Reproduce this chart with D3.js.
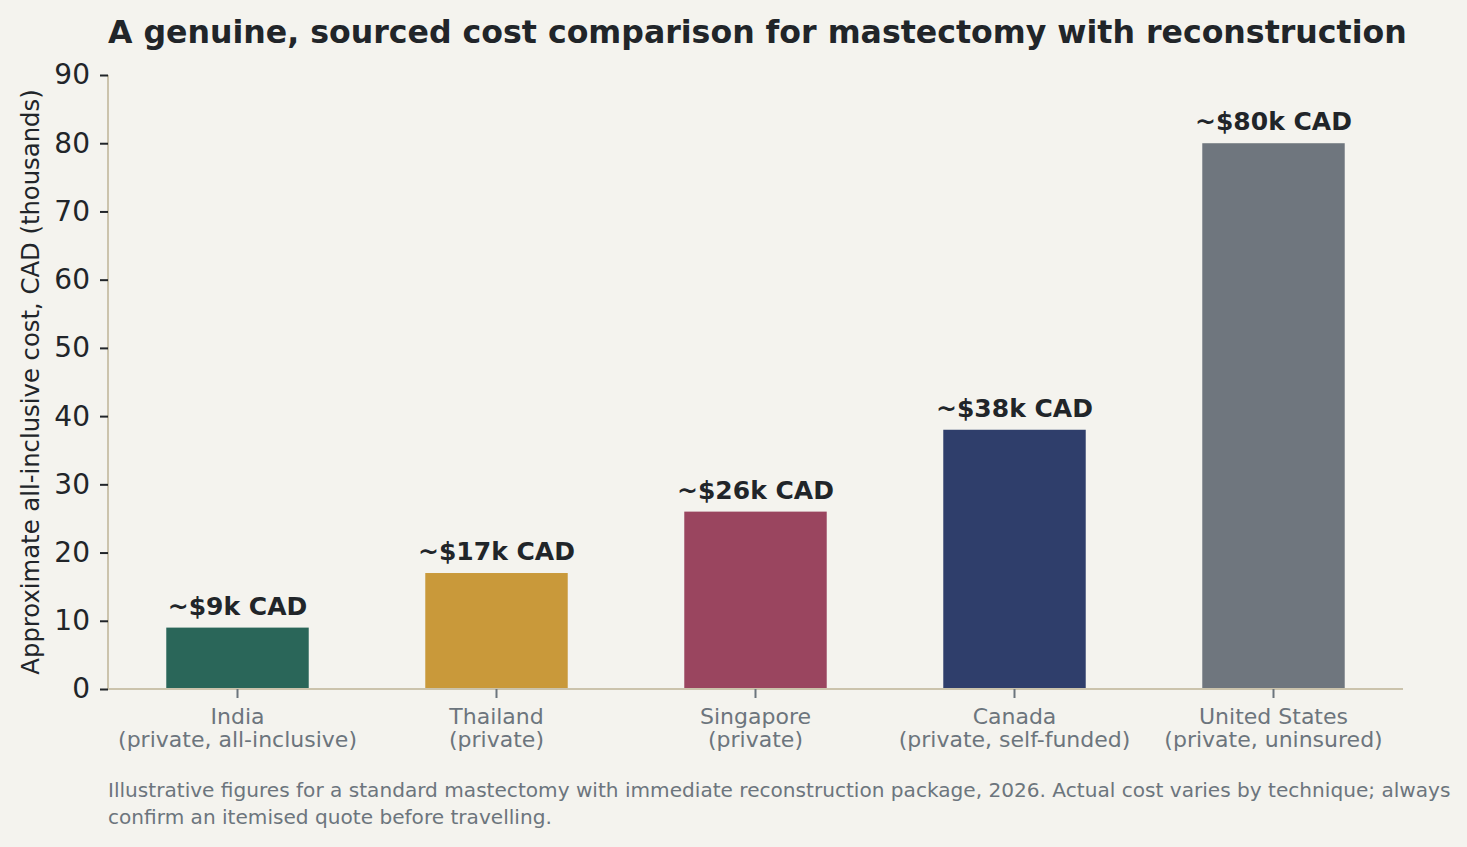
<!DOCTYPE html>
<html>
<head>
<meta charset="utf-8">
<script src="https://cdn.jsdelivr.net/npm/d3@7"></script>
<style>
	body { margin: 0; background: #f4f3ee; }
	svg { display: block; }
	svg text { font-family: "DejaVu Sans", sans-serif; }
</style>
</head>
<body>
<svg id="chart" width="1467" height="847"></svg>
<script>
var countries = ["India", "Thailand", "Singapore", "Canada", "United States"],
	subtitles = ["(private, all-inclusive)", "(private)", "(private)", "(private, self-funded)", "(private, uninsured)"],
	costs = [9, 17, 26, 38, 80],
	barLabels = ["~$9k CAD", "~$17k CAD", "~$26k CAD", "~$38k CAD", "~$80k CAD"],
	barColors = ["#2a6659", "#c9993a", "#9a455f", "#2f3e6b", "#6f767e"],
	yTicks = [0, 10, 20, 30, 40, 50, 60, 70, 80, 90];

(function() {
	"use strict";

	var svg = d3.select("#chart"),
		margin = { top: 75, right: 64, bottom: 158, left: 108 },
		width = 1467 - margin.left - margin.right,
		height = 847 - margin.top - margin.bottom,
		spineColor = "#cbc3ac",
		darkText = "#212529",
		greyText = "#6c757d";

	var x = d3.scaleBand()
		.domain(d3.range(countries.length))
		.range([0, width])
		.paddingInner(0.45)
		.paddingOuter(0.225);

	var y = d3.scaleLinear().domain([0, 90]).range([height, 0]);

	svg.append("rect").attr("width", 1467).attr("height", 847).attr("fill", "#f4f3ee");

	var g = svg.append("g")
		.attr("transform", "translate(" + margin.left + "," + margin.top + ")");

	// bars
	g.selectAll("rect.bar")
		.data(costs)
		.enter().append("rect")
			.attr("class", "bar")
			.attr("x", function(d, i) { return x(i); })
			.attr("y", function(d) { return y(d); })
			.attr("width", x.bandwidth())
			.attr("height", function(d) { return height - y(d); })
			.attr("fill", function(d, i) { return barColors[i]; });

	// value labels
	g.selectAll("text.value")
		.data(costs)
		.enter().append("text")
			.attr("class", "value")
			.attr("x", function(d, i) { return x(i) + x.bandwidth() / 2; })
			.attr("y", function(d) { return y(d) - 13; })
			.attr("text-anchor", "middle")
			.attr("font-size", 25)
			.attr("font-weight", "bold")
			.attr("fill", darkText)
			.text(function(d, i) { return barLabels[i]; });

	// y axis
	var yAxis = g.append("g")
		.call(d3.axisLeft(y).tickValues(yTicks).tickSize(8).tickPadding(10));
	yAxis.select(".domain").attr("stroke", spineColor).attr("stroke-width", 2)
		.attr("d", "M0," + height + "V0");
	yAxis.selectAll(".tick line").attr("stroke", darkText).attr("stroke-width", 2);
	yAxis.selectAll(".tick text")
		.attr("font-size", 28)
		.attr("fill", darkText);

	// x axis
	var xAxis = g.append("g")
		.attr("transform", "translate(0," + height + ")")
		.call(d3.axisBottom(x).tickSize(9).tickFormat(""));
	xAxis.select(".domain").attr("stroke", spineColor).attr("stroke-width", 2)
		.attr("d", "M0,0H" + width);
	xAxis.selectAll(".tick line").attr("stroke", greyText).attr("stroke-width", 2);
	xAxis.selectAll(".tick").append("text")
		.attr("text-anchor", "middle")
		.attr("font-size", 22)
		.attr("fill", greyText)
		.each(function(d) {
			var t = d3.select(this);
			t.append("tspan").attr("x", 0).attr("y", 35).text(countries[d]);
			t.append("tspan").attr("x", 0).attr("y", 58).text(subtitles[d]);
		});

	// y axis label
	svg.append("text")
		.attr("transform", "translate(39," + (margin.top + height / 2) + ") rotate(-90)")
		.attr("text-anchor", "middle")
		.attr("font-size", 24.3)
		.attr("fill", darkText)
		.text("Approximate all-inclusive cost, CAD (thousands)");

	// title
	svg.append("text")
		.attr("x", 108)
		.attr("y", 43)
		.attr("font-size", 31.6)
		.attr("font-weight", "bold")
		.attr("fill", darkText)
		.text("A genuine, sourced cost comparison for mastectomy with reconstruction");

	// footnote
	var note = svg.append("text")
		.attr("font-size", 20.1)
		.attr("fill", greyText);
	note.append("tspan").attr("x", 108).attr("y", 797)
		.text("Illustrative figures for a standard mastectomy with immediate reconstruction package, 2026. Actual cost varies by technique; always");
	note.append("tspan").attr("x", 108).attr("y", 824)
		.text("confirm an itemised quote before travelling.");
})();
</script>
</body>
</html>
